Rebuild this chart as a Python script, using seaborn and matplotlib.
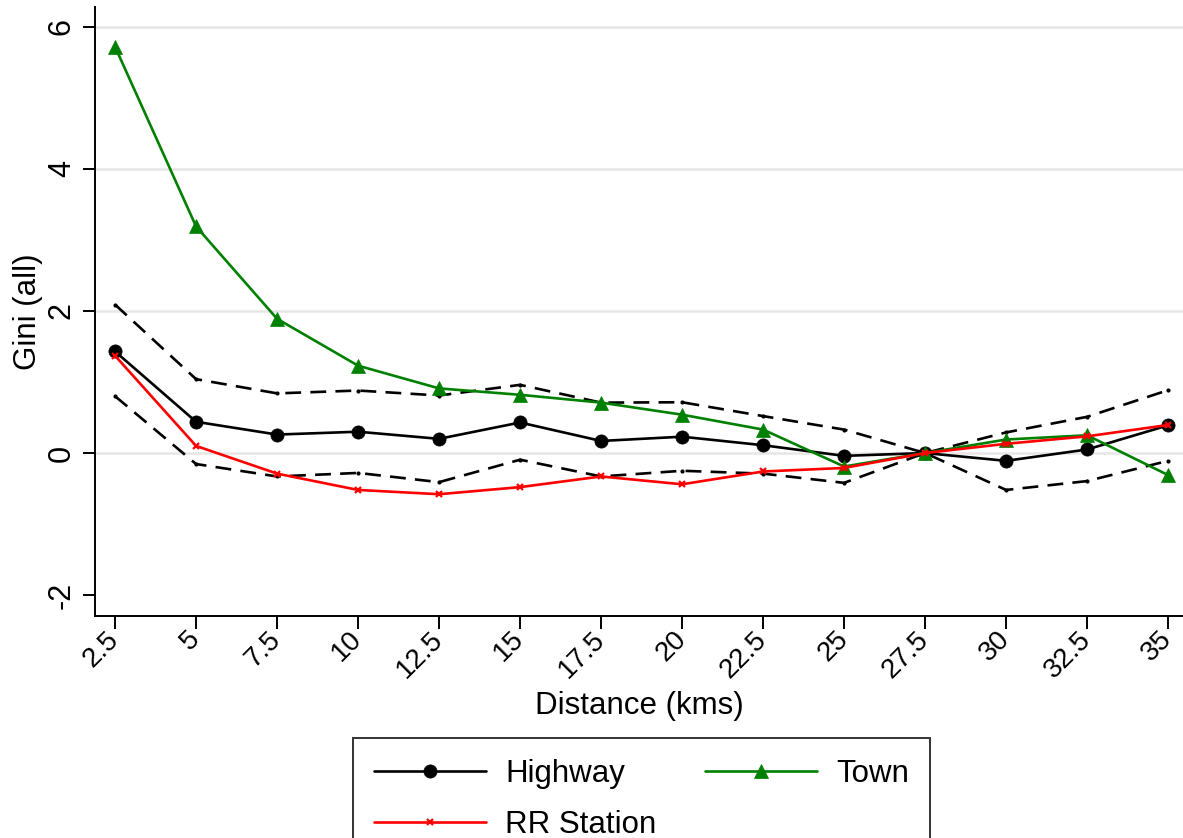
#!/usr/bin/env python3

import matplotlib
matplotlib.use("Agg")
import matplotlib.pyplot as plt
import seaborn as sns

sns.set_style("white")
plt.rcParams['font.family'] = ['Liberation Sans', 'DejaVu Sans']
plt.rcParams.update({'text.color': 'black', 'axes.labelcolor': 'black',
                     'xtick.color': 'black', 'ytick.color': 'black'})

# dados
distancia = [2.5, 5, 7.5, 10, 12.5, 15, 17.5, 20, 22.5, 25, 27.5, 30, 32.5, 35]
highway = [1.43, 0.44, 0.26, 0.30, 0.20, 0.43, 0.17, 0.23, 0.11, -0.04, 0.0, -0.11, 0.05, 0.39]
highway_sup = [2.09, 1.04, 0.84, 0.88, 0.81, 0.96, 0.71, 0.715, 0.52, 0.33, 0.0, 0.29, 0.51, 0.885]
highway_inf = [0.80, -0.155, -0.33, -0.28, -0.41, -0.094, -0.33, -0.25, -0.29, -0.42, 0.0, -0.52, -0.395, -0.11]
rr_station = [1.37, 0.10, -0.29, -0.52, -0.58, -0.48, -0.33, -0.44, -0.26, -0.21, 0.0, 0.13, 0.235, 0.395]
town = [5.72, 3.19, 1.89, 1.23, 0.91, 0.82, 0.71, 0.54, 0.33, -0.19, 0.0, 0.19, 0.25, -0.31]

yticks = [-2, 0, 2, 4, 6]
xticks = distancia
xtick_labels = ["2.5", "5", "7.5", "10", "12.5", "15", "17.5", "20", "22.5", "25", "27.5", "30", "32.5", "35"]

fig = plt.figure(figsize=(11.83, 8.38), dpi=100)
ax = fig.add_axes([0.0803, 0.2649, 0.9197, 0.7267])

tracejado = (0, (6, 3.5))
for serie in [highway_sup, highway_inf]:
    sns.lineplot(x=distancia, y=serie, ax=ax, color="black", linewidth=1.9,
                 linestyle=tracejado, marker="o", markersize=3,
                 markeredgewidth=0, markeredgecolor="black")

sns.lineplot(x=distancia, y=highway, ax=ax, color="black", linewidth=1.9,
             marker="o", markersize=9.5, markeredgewidth=0.5, markeredgecolor="black")
linha_hw = ax.lines[-1]
sns.lineplot(x=distancia, y=town, ax=ax, color="#008000", linewidth=1.9,
             marker="^", markersize=10, markeredgewidth=0.5, markeredgecolor="#008000")
linha_town = ax.lines[-1]
sns.lineplot(x=distancia, y=rr_station, ax=ax, color="#ff0000", linewidth=1.9,
             marker="x", markersize=4, markeredgewidth=1.6, markeredgecolor="#ff0000")
linha_rr = ax.lines[-1]

if ax.get_legend() is not None:
    ax.get_legend().remove()

ax.set_xlim(1.88, 35.46)
ax.set_ylim(-2.295, 6.28)
ax.set_yticks(yticks)
ax.set_yticklabels([str(v) for v in yticks], rotation=90, va="center", fontsize=22)
ax.set_xticks(xticks)
ax.set_xticklabels(xtick_labels, rotation=45, ha="right", va="center",
                   rotation_mode="anchor", fontsize=20)

ax.tick_params(axis="both", direction="out", length=9, width=1.4,
               left=True, bottom=True)
ax.tick_params(axis="x", pad=5)
ax.tick_params(axis="y", pad=4)

ax.grid(axis="y", color="#e6e6e6", linewidth=1.8)
ax.set_axisbelow(True)
ax.get_ygridlines()[0].set_visible(False)

for lado in ["top", "right"]:
    ax.spines[lado].set_visible(False)
for lado in ["left", "bottom"]:
    ax.spines[lado].set_color("black")
    ax.spines[lado].set_linewidth(1.4)

ax.set_xlabel("Distance (kms)", fontsize=22.5, labelpad=6)
ax.set_ylabel("Gini (all)", fontsize=22.5, labelpad=3)

leg = fig.legend([linha_hw, linha_rr, linha_town], ["Highway", "RR Station", "Town"],
                 loc="upper center", bbox_to_anchor=(0.542, 0.1193), ncol=2,
                 fontsize=22.5, frameon=True, fancybox=False, edgecolor="black",
                 handlelength=3.6, handletextpad=0.6, columnspacing=1.55,
                 borderpad=0.67, labelspacing=0.67, numpoints=1, borderaxespad=0)
leg.get_frame().set_linewidth(1.4)

plt.savefig("out.png", dpi=100)
plt.close()
